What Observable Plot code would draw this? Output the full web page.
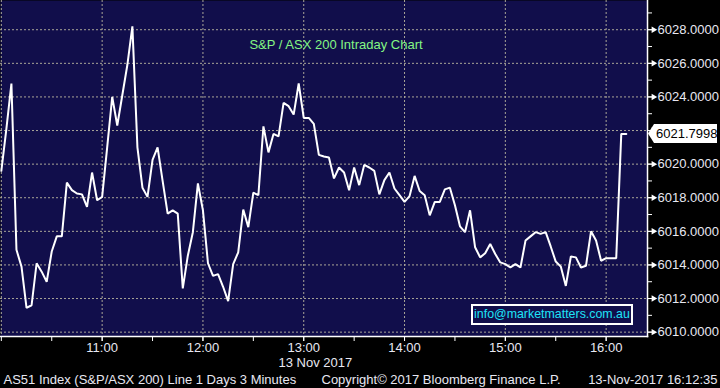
<!DOCTYPE html>
<html>
<head>
<meta charset="utf-8">
<script src="https://cdn.jsdelivr.net/npm/d3@7"></script>
<script src="https://cdn.jsdelivr.net/npm/@observablehq/plot@0.6"></script>
<style>
  body { margin: 0; background: #000; }
  #wrap { position: relative; width: 720px; height: 388px; overflow: hidden; }
  #email {
    position: absolute; left: 471px; top: 304px; width: 158px; height: 17px;
    border: 2px solid #fff; background: #110e4b; color: #1ee3f7;
    font: 12.4px "Liberation Sans", Arial, sans-serif; line-height: 17px; text-align: center;
  }
</style>
</head>
<body>
<div id="wrap"></div>
<script>
// ---- data ----
const sessionDay = "2017-11-13";
const startTime = "10:00";
const barMinutes = 3;
const closes = [
  6019.6, 6022.1, 6024.8, 6014.9, 6013.9, 6011.45, 6011.6, 6014.1, 6013.6, 6013.0,
  6014.8, 6015.7, 6015.7, 6018.9, 6018.45, 6018.25, 6018.2, 6017.45, 6019.5, 6017.85,
  6018.05, 6021.0, 6024.0, 6022.3, 6024.1, 6025.9, 6028.2, 6021.0, 6018.6, 6018.05,
  6020.25, 6021.0, 6019.0, 6017.05, 6017.25, 6017.05, 6012.6, 6014.55, 6015.95, 6018.85,
  6017.25, 6014.1, 6013.35, 6013.45, 6012.7, 6011.85, 6014.05, 6014.75, 6017.3, 6016.25,
  6018.3, 6018.15, 6022.25, 6020.7, 6021.8, 6021.65, 6023.65, 6023.45, 6022.95, 6024.8,
  6022.75, 6022.75, 6022.4, 6020.55, 6020.45, 6020.4, 6019.15, 6019.8, 6019.5, 6018.45,
  6019.8, 6018.75, 6019.95, 6019.8, 6019.6, 6018.2, 6019.05, 6019.5, 6018.55, 6018.15,
  6017.75, 6018.1, 6019.3, 6018.4, 6018.15, 6016.95, 6017.75, 6017.75, 6018.5, 6018.6,
  6017.55, 6016.3, 6015.95, 6017.25, 6015.05, 6014.45, 6014.7, 6015.25, 6014.65, 6014.15,
  6014.05, 6013.85, 6014.05, 6013.85, 6015.45, 6015.7, 6015.95, 6015.85, 6015.95, 6015.1,
  6014.2, 6013.9, 6012.75, 6014.5, 6014.45, 6013.85, 6013.95, 6016.0, 6015.45, 6014.25,
  6014.4, 6014.4, 6014.4, 6021.8, 6021.8
];
const lastValue = 6021.7998;
const yMajorTicks = [6010, 6012, 6014, 6016, 6018, 6020, 6022, 6024, 6026, 6028];
const yMinorTicks = [6011, 6013, 6015, 6017, 6019, 6021, 6023, 6025, 6027, 6029];
const xGridTicks = ["10:00", "11:00", "12:00", "13:00", "14:00", "15:00", "16:00"];
const xLabelTicks = ["11:00", "12:00", "13:00", "14:00", "15:00", "16:00"];
const xMinorTicks = ["10:00", "10:30", "11:00", "11:30", "12:00", "12:30", "13:00", "13:30",
  "14:00", "14:30", "15:00", "15:30", "16:00"];
const xDomainTimes = ["09:59:30", "16:24:37"];
const yDomain = [6009.74, 6029.74];
const titleText = "S&P / ASX 200 Intraday Chart";
const dateLabel = "13 Nov 2017";
const dateLabelTime = "12:45";
const footerLeft = "AS51 Index (S&P/ASX 200) Line 1 Days 3 Minutes";
const footerMid = "Copyright\u00a9 2017 Bloomberg Finance L.P.";
const footerRight = "13-Nov-2017 16:12:35";
const emailText = "info@marketmatters.com.au";

// ---- build ----
const toDate = (hm) => new Date(sessionDay + "T" + (hm.length === 5 ? hm + ":00" : hm) + "Z");
const t0 = toDate(startTime);
const data = closes.map((c, i) => ({ time: new Date(+t0 + i * barMinutes * 60000), close: c }));
// the current-value flag hides the tick label it sits on
const yLabelTicks = yMajorTicks.filter(v => Math.abs(v - lastValue) > 0.9);

const navy = "#110e4b";
const gridColor = "#aaa698";
const textColor = "#e8e8f2";
const font = "'Liberation Sans', Arial, sans-serif";
const W = 720, H = 388, mR = 73, mB = 52;

const chart = Plot.plot({
  width: W, height: H,
  marginLeft: 0, marginRight: mR, marginTop: 0, marginBottom: mB,
  style: { background: "#000", color: textColor, fontFamily: font, fontSize: "13px", overflow: "visible" },
  x: { type: "utc", domain: xDomainTimes.map(toDate), label: null },
  y: { domain: yDomain, label: null },
  marks: [
    Plot.frame({ fill: navy, stroke: null }),
    Plot.gridY(yMajorTicks, { stroke: gridColor, strokeOpacity: 1, strokeDasharray: "2,2", strokeWidth: 1 }),
    Plot.gridX(xGridTicks.map(toDate), { stroke: gridColor, strokeOpacity: 1, strokeDasharray: "2,2", strokeWidth: 1 }),
    Plot.line(data, { x: "time", y: "close", stroke: "white", strokeWidth: 2, strokeLinejoin: "miter" }),
    Plot.frame({ anchor: "bottom", stroke: "white", strokeWidth: 1.5 }),
    Plot.frame({ anchor: "right", stroke: "white", strokeWidth: 1.5 }),
    Plot.axisX(xMinorTicks.map(toDate), { tickSize: 5, tickFormat: () => "", stroke: "white" }),
    Plot.axisX(xLabelTicks.map(toDate), { tickSize: 5, tickPadding: 1, tickFormat: d3.utcFormat("%H:%M"),
      stroke: "white", fill: textColor, fontSize: 13 }),
    Plot.axisY(yMinorTicks, { anchor: "right", tickSize: 4, tickFormat: () => "", stroke: "white" }),
    Plot.axisY(yMajorTicks, { anchor: "right", tickSize: 6, tickFormat: () => "", stroke: "white" }),
    Plot.axisY(yLabelTicks, { anchor: "right", tickSize: 6, tickPadding: 4, tickFormat: d => d.toFixed(4),
      stroke: "white", fill: textColor, fontSize: 13 }),
    Plot.dot(yMajorTicks, { y: d => d, frameAnchor: "right", dx: 6, symbol: "triangle", rotate: 90, r: 2.4, fill: "white", stroke: null }),
    Plot.text([titleText], { frameAnchor: "top", lineAnchor: "middle", dx: 12, dy: 44, fill: "#84f684", fontSize: 13 }),
    Plot.text([dateLabel], { x: () => toDate(dateLabelTime), frameAnchor: "bottom", lineAnchor: "middle", dy: 26.5, textAnchor: "start", fill: textColor, fontSize: 13 }),
    Plot.text([footerLeft], { frameAnchor: "bottom-left", lineAnchor: "middle", dx: 3, dy: 43.8, textAnchor: "start", fill: textColor, fontSize: 13 }),
    Plot.text([footerMid], { frameAnchor: "bottom-left", lineAnchor: "middle", dx: 321, dy: 43.8, textAnchor: "start", fill: textColor, fontSize: 13 }),
    Plot.text([footerRight], { frameAnchor: "bottom-right", lineAnchor: "middle", dx: 70, dy: 43.8, textAnchor: "end", fill: textColor, fontSize: 13 })
  ]
});

// current-value flag drawn through the y scale
const svg = d3.select(chart);
const yv = chart.scale("y").apply(lastValue);
const fx = W - mR + 1;
const g = svg.append("g");
g.append("path")
  .attr("d", `M${fx},${yv} L${fx + 6},${yv - 9.5} L${W - 3},${yv - 9.5} L${W - 3},${yv + 9.5} L${fx + 6},${yv + 9.5} Z`)
  .attr("fill", "white");
g.append("text")
  .attr("x", fx + 8).attr("y", yv).attr("dy", "0.35em")
  .attr("text-anchor", "start")
  .attr("fill", "black").attr("font-family", font).attr("font-size", 13)
  .text(lastValue.toFixed(4));

const wrap = document.getElementById("wrap");
wrap.appendChild(chart);
const box = document.createElement("div");
box.id = "email";
box.textContent = emailText;
wrap.appendChild(box);
</script>
</body>
</html>
